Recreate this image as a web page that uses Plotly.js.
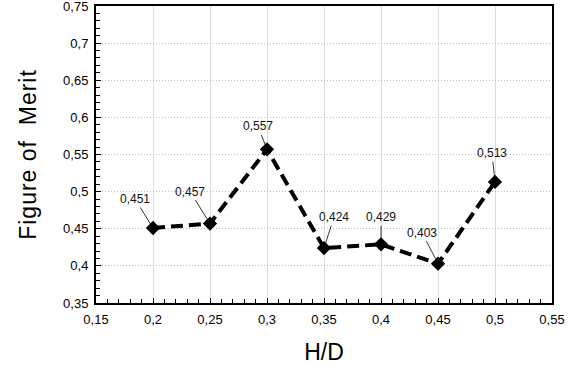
<!DOCTYPE html>
<html>
<head>
<meta charset="utf-8">
<script src="https://cdn.plot.ly/plotly-3.0.1.min.js"></script>
<style>
html,body{margin:0;padding:0;background:#fff;}
#chart{width:575px;height:365px;}
.ytitle{letter-spacing:1px;}
</style>
</head>
<body>
<div id="chart"></div>
<script>
// Data
const hd = [0.2, 0.25, 0.3, 0.35, 0.4, 0.45, 0.5];
const fom = [0.451, 0.457, 0.557, 0.424, 0.429, 0.403, 0.513];
const labels = ['0,451', '0,457', '0,557', '0,424', '0,429', '0,403', '0,513'];
// label offsets in pixels (text position relative to point)
const labelAx = [-18, -20, -9, 10, 0, -16, -3];
const labelAy = [-29, -32, -23, -31, -27, -31, -29];

const trace = {
  x: hd, y: fom, type: 'scatter', mode: 'lines+markers',
  line: {color: '#000', width: 4, dash: '12px,6px'},
  marker: {symbol: 'diamond', size: 11, color: '#000'},
  hoverinfo: 'skip'
};

const annotations = hd.map((x, i) => ({
  x: x, y: fom[i], xref: 'x', yref: 'y',
  text: labels[i], showarrow: true, arrowhead: 0, arrowwidth: 0.8,
  arrowcolor: '#000', ax: labelAx[i], ay: labelAy[i], standoff: 3,
  font: {family: 'Liberation Sans, Arial, sans-serif', size: 12, color: '#111'}
}));

const layout = {
  width: 575, height: 365,
  margin: {l: 96, r: 23, t: 6, b: 62},
  paper_bgcolor: '#fff', plot_bgcolor: '#fff',
  separators: ', ',
  showlegend: false,
  font: {family: 'Liberation Sans, Arial, sans-serif', color: '#000'},
  xaxis: {
    range: [0.15, 0.55], dtick: 0.05, tick0: 0.15,
    showline: true, linecolor: '#000', linewidth: 2, mirror: true,
    ticks: 'inside', ticklen: 5, tickcolor: '#000', tickwidth: 1,
    minor: {dtick: 0.01, ticks: 'inside', ticklen: 4, tickcolor: '#000', showgrid: false},
    showgrid: true, gridcolor: '#dcdcdc', gridwidth: 1,
    zeroline: false, ticklabeloverflow: 'allow', ticklabelstandoff: 3,
    tickfont: {size: 13, color: '#000'},
    title: {text: 'H/D', font: {size: 23, color: '#000'}, standoff: 19}
  },
  yaxis: {
    range: [0.35, 0.75], dtick: 0.05, tick0: 0.35,
    showline: true, linecolor: '#000', linewidth: 2, mirror: true,
    ticks: 'inside', ticklen: 5, tickcolor: '#000', tickwidth: 1,
    minor: {dtick: 0.01, ticks: 'inside', ticklen: 4, tickcolor: '#000', showgrid: false},
    showgrid: true, gridcolor: '#bdbdbd', gridwidth: 1, griddash: '1px,2px',
    zeroline: false, ticklabeloverflow: 'allow', ticklabelstandoff: 3,
    tickfont: {size: 13, color: '#000'},
    title: {text: 'Figure of  Merit', font: {size: 23, color: '#000'}, standoff: 20}
  },
  annotations: annotations
};

Plotly.newPlot('chart', [trace], layout, {displayModeBar: false, staticPlot: true});
</script>
</body>
</html>
